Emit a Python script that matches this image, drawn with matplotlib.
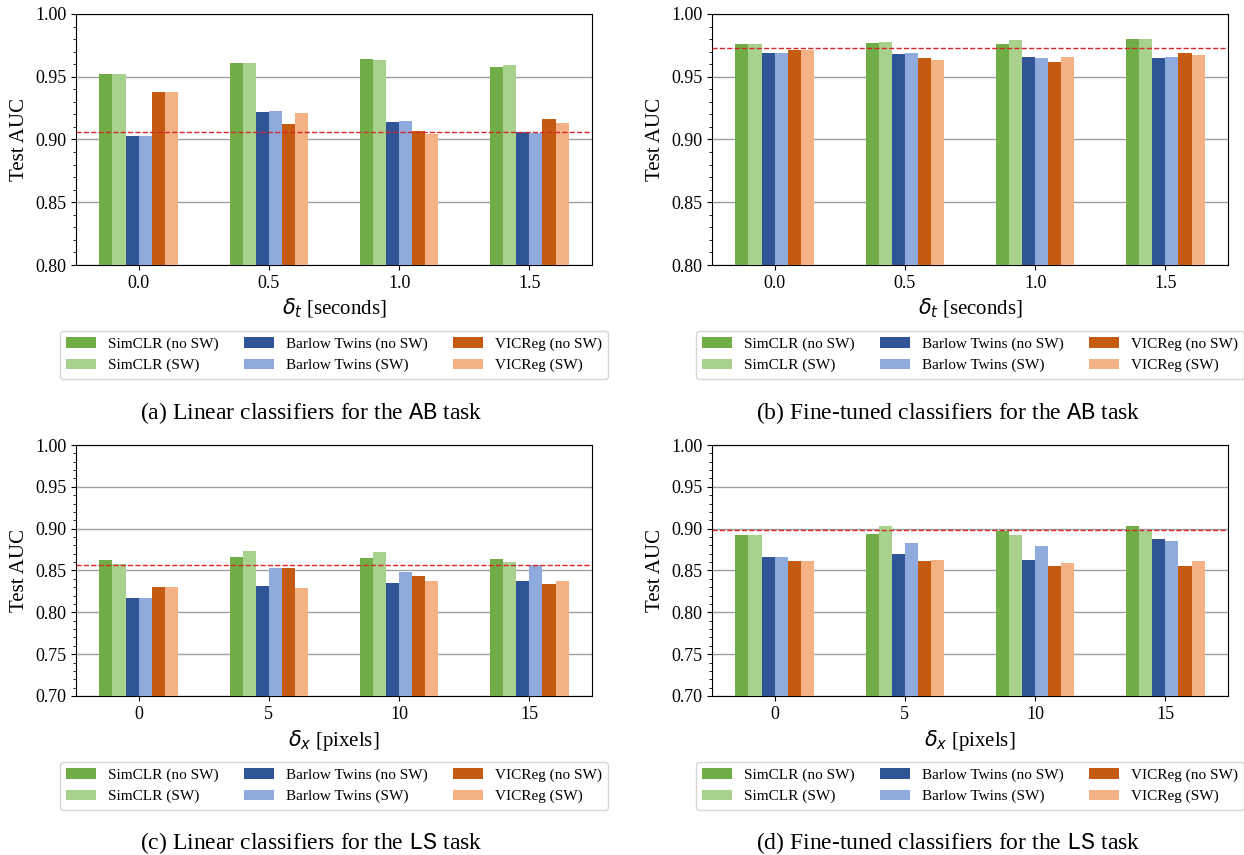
import matplotlib
matplotlib.use("Agg")
import matplotlib.pyplot as plt
import numpy as np
from matplotlib.ticker import MultipleLocator

plt.rcParams['font.family'] = 'serif'
plt.rcParams['font.serif'] = ['Liberation Serif', 'DejaVu Serif']
# sans-serif greek for the shift symbols, typewriter for the task names
plt.rcParams['mathtext.fontset'] = 'custom'
plt.rcParams['mathtext.rm'] = 'DejaVu Sans'
plt.rcParams['mathtext.it'] = 'DejaVu Sans:italic'
plt.rcParams['mathtext.tt'] = 'Liberation Mono'

labels = ['SimCLR (no SW)', 'SimCLR (SW)', 'Barlow Twins (no SW)',
          'Barlow Twins (SW)', 'VICReg (no SW)', 'VICReg (SW)']
colors = ['#70AD47', '#A9D18E', '#2F5597', '#8FAADC', '#C55A11', '#F4B183']

shifts_t = ['0.0', '0.5', '1.0', '1.5']
shifts_x = ['0', '5', '10', '15']

# rows follow labels, columns follow the shift values
ab_linear = [
    [0.952, 0.961, 0.964, 0.958],
    [0.952, 0.961, 0.963, 0.959],
    [0.903, 0.922, 0.914, 0.906],
    [0.903, 0.923, 0.915, 0.905],
    [0.938, 0.912, 0.907, 0.916],
    [0.938, 0.921, 0.904, 0.913],
]
ab_finetune = [
    [0.976, 0.977, 0.976, 0.980],
    [0.976, 0.978, 0.979, 0.980],
    [0.969, 0.968, 0.966, 0.965],
    [0.969, 0.969, 0.965, 0.966],
    [0.971, 0.965, 0.962, 0.969],
    [0.971, 0.963, 0.966, 0.967],
]
ls_linear = [
    [0.863, 0.866, 0.865, 0.864],
    [0.858, 0.873, 0.872, 0.860],
    [0.817, 0.831, 0.835, 0.837],
    [0.817, 0.853, 0.848, 0.857],
    [0.830, 0.853, 0.843, 0.834],
    [0.830, 0.829, 0.837, 0.837],
]
ls_finetune = [
    [0.892, 0.894, 0.897, 0.903],
    [0.892, 0.903, 0.892, 0.897],
    [0.866, 0.870, 0.862, 0.888],
    [0.866, 0.883, 0.879, 0.885],
    [0.861, 0.861, 0.855, 0.855],
    [0.861, 0.862, 0.859, 0.861],
]
baselines = [0.906, 0.973, 0.857, 0.898]

captions = ['(a) Linear classifiers for the $\\mathtt{AB}$ task',
            '(b) Fine-tuned classifiers for the $\\mathtt{AB}$ task',
            '(c) Linear classifiers for the $\\mathtt{LS}$ task',
            '(d) Fine-tuned classifiers for the $\\mathtt{LS}$ task']


def plot_panel(ax, values, ticks, xlabel, ymin, baseline):
    x = np.arange(len(ticks))
    width = 0.1
    for i, row in enumerate(values):
        offset = (i - 2.5) * width
        ax.bar(x + offset, row, width, color=colors[i], label=labels[i], zorder=3)
    ax.axhline(baseline, color='#d62728', linestyle='--', linewidth=1, zorder=4)
    ax.set_ylim(ymin, 1.0)
    ax.set_xticks(x)
    ax.set_xticklabels(ticks)
    ax.yaxis.set_major_locator(MultipleLocator(0.05))
    ax.yaxis.set_minor_locator(MultipleLocator(0.01))
    ax.yaxis.grid(True, which='major', color='#a0a0a0', linewidth=1, zorder=0)
    ax.tick_params(axis='both', labelsize=13)
    ax.set_ylabel('Test AUC', fontsize=15)
    ax.set_xlabel(xlabel, fontsize=15)
    ax.legend(loc='upper center', bbox_to_anchor=(0.5, -0.263), ncol=3,
              fontsize=11, borderaxespad=0, columnspacing=1.6)


fig = plt.figure(figsize=(12.44, 8.55), dpi=100)
W, H = 1244, 855
ax_w, ax_h = 516 / W, 251 / H
positions = [(76, 265), (712, 265), (76, 696), (712, 696)]
panels = [ab_linear, ab_finetune, ls_linear, ls_finetune]
tick_sets = [shifts_t, shifts_t, shifts_x, shifts_x]
xlabels = ['$\\delta_t$ [seconds]', '$\\delta_t$ [seconds]',
           '$\\delta_x$ [pixels]', '$\\delta_x$ [pixels]']
ymins = [0.80, 0.80, 0.70, 0.70]

for k in range(4):
    left, bottom = positions[k]
    ax = fig.add_axes([left / W, 1 - bottom / H, ax_w, ax_h])
    plot_panel(ax, panels[k], tick_sets[k], xlabels[k], ymins[k], baselines[k])

caption_pos = [(311, 413), (948, 413), (311, 843), (948, 843)]
for (cx, cy), text in zip(caption_pos, captions):
    fig.text(cx / W, 1 - cy / H, text, ha='center', va='center', fontsize=17)

fig.savefig('out.png', dpi=100)
